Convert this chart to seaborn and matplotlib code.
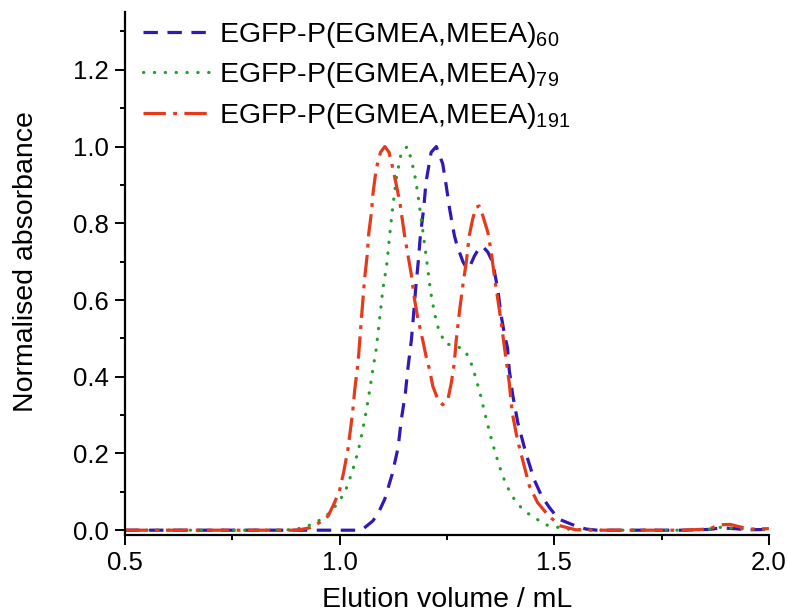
import matplotlib
matplotlib.use('Agg')
import matplotlib.pyplot as plt
import seaborn as sns
from matplotlib.ticker import MultipleLocator, FormatStrFormatter

# EGFP-P(EGMEA,MEEA)60
x_60 = [0.50, 0.60, 0.70, 0.80, 0.90, 1.00, 1.04, 1.054, 1.077, 1.09, 1.105, 1.122, 1.136, 1.143,
        1.153, 1.159, 1.167, 1.172, 1.177, 1.183, 1.188, 1.196, 1.201, 1.213, 1.225, 1.24, 1.248,
        1.256, 1.262, 1.267, 1.273, 1.287, 1.296, 1.304, 1.314, 1.322, 1.333, 1.345, 1.356, 1.368,
        1.376, 1.384, 1.391, 1.395, 1.403, 1.415, 1.434, 1.453, 1.47, 1.488, 1.51, 1.55, 1.574,
        1.60, 1.70, 1.80, 1.86, 1.89, 1.92, 1.95, 2.00]
y_60 = [0.0, 0.0, 0.0, 0.0, 0.0, 0.0, 0.0, 0.003, 0.024, 0.045, 0.081, 0.145, 0.215, 0.284,
        0.358, 0.423, 0.496, 0.561, 0.63, 0.70, 0.769, 0.842, 0.907, 0.985, 1.0, 0.955, 0.899,
        0.838, 0.80, 0.769, 0.743, 0.70, 0.682, 0.69, 0.715, 0.73, 0.74, 0.725, 0.70, 0.63,
        0.561, 0.509, 0.475, 0.418, 0.353, 0.28, 0.20, 0.132, 0.09, 0.06, 0.029, 0.011, 0.003,
        0.0, 0.0, 0.0, 0.002, 0.006, 0.004, 0.001, 0.002]

# EGFP-P(EGMEA,MEEA)79
x_79 = [0.50, 0.60, 0.70, 0.80, 0.88, 0.91, 0.93, 0.953, 0.978, 0.996, 1.012, 1.029, 1.043, 1.053,
        1.062, 1.07, 1.077, 1.085, 1.093, 1.101, 1.109, 1.116, 1.124, 1.133, 1.143, 1.157, 1.167,
        1.177, 1.184, 1.194, 1.203, 1.212, 1.221, 1.23, 1.246, 1.269, 1.291, 1.304, 1.312, 1.319,
        1.326, 1.337, 1.349, 1.362, 1.377, 1.386, 1.398, 1.413, 1.434, 1.48, 1.527, 1.60, 1.70,
        1.80, 1.86, 1.89, 1.92, 1.95, 2.00]
y_79 = [0.0, 0.0, 0.0, 0.0, 0.001, 0.005, 0.013, 0.026, 0.046, 0.072, 0.098, 0.152, 0.206, 0.258,
        0.312, 0.366, 0.418, 0.472, 0.552, 0.632, 0.687, 0.765, 0.847, 0.925, 0.981, 1.0, 0.966,
        0.913, 0.86, 0.777, 0.70, 0.62, 0.565, 0.525, 0.486, 0.481, 0.47, 0.442, 0.416, 0.389,
        0.362, 0.31, 0.256, 0.203, 0.15, 0.124, 0.096, 0.07, 0.047, 0.014, 0.003, 0.0, 0.0,
        0.0, 0.002, 0.008, 0.005, 0.002, 0.002]

# EGFP-P(EGMEA,MEEA)191
x_191 = [0.50, 0.60, 0.70, 0.80, 0.90, 0.93, 0.953, 0.973, 0.988, 1.0, 1.009, 1.019, 1.025, 1.03,
         1.035, 1.043, 1.05, 1.058, 1.064, 1.068, 1.074, 1.077, 1.085, 1.095, 1.105, 1.115, 1.124,
         1.132, 1.14, 1.151, 1.159, 1.167, 1.174, 1.182, 1.194, 1.202, 1.209, 1.217, 1.229, 1.24,
         1.252, 1.26, 1.267, 1.271, 1.279, 1.287, 1.295, 1.302, 1.31, 1.318, 1.325, 1.333, 1.345,
         1.353, 1.36, 1.368, 1.376, 1.384, 1.395, 1.402, 1.414, 1.426, 1.442, 1.461, 1.488, 1.515,
         1.55, 1.60, 1.70, 1.80, 1.86, 1.885, 1.91, 1.935, 1.96, 2.00]
y_191 = [0.0, 0.0, 0.0, 0.0, 0.0, 0.006, 0.02, 0.037, 0.072, 0.106, 0.15, 0.21, 0.262, 0.306,
         0.366, 0.44, 0.544, 0.656, 0.717, 0.777, 0.829, 0.873, 0.942, 0.985, 1.0, 0.985, 0.942,
         0.899, 0.855, 0.769, 0.717, 0.665, 0.604, 0.552, 0.492, 0.449, 0.42, 0.375, 0.34, 0.327,
         0.34, 0.384, 0.436, 0.49, 0.57, 0.639, 0.70, 0.769, 0.812, 0.842, 0.845, 0.821, 0.777,
         0.725, 0.665, 0.604, 0.544, 0.475, 0.384, 0.306, 0.236, 0.184, 0.115, 0.072, 0.036, 0.011,
         0.001, 0.0, 0.0, 0.0, 0.003, 0.014, 0.015, 0.008, 0.003, 0.004]

sns.set_style('ticks')
plt.rcParams['font.family'] = ['Liberation Sans', 'DejaVu Sans']
plt.rcParams['mathtext.default'] = 'regular'
plt.rcParams['text.color'] = 'black'
plt.rcParams['axes.labelcolor'] = 'black'
plt.rcParams['xtick.color'] = 'black'
plt.rcParams['ytick.color'] = 'black'

fig, ax = plt.subplots(figsize=(7.87, 6.14), dpi=100)
fig.subplots_adjust(left=0.159, right=0.977, bottom=0.129, top=0.980)

sns.lineplot(x=x_60, y=y_60, ax=ax, color='#3219b4', linewidth=2.3,
             linestyle=(0, (4.5, 3)), label=r'EGFP-P(EGMEA,MEEA)$_{60}$')
sns.lineplot(x=x_79, y=y_79, ax=ax, color='#22a02a', linewidth=2.3,
             linestyle=(0, (0.1, 3.3)), dash_capstyle='round',
             label=r'EGFP-P(EGMEA,MEEA)$_{79}$')
sns.lineplot(x=x_191, y=y_191, ax=ax, color='#e63a1c', linewidth=2.3,
             linestyle=(0, (7, 2.3, 1.2, 2.3)), label=r'EGFP-P(EGMEA,MEEA)$_{191}$')

ax.set_xlim(0.5, 2.0)
ax.set_ylim(-0.012, 1.35)
ax.xaxis.set_major_locator(MultipleLocator(0.5))
ax.xaxis.set_minor_locator(MultipleLocator(0.25))
ax.yaxis.set_major_locator(MultipleLocator(0.2))
ax.yaxis.set_minor_locator(MultipleLocator(0.1))
ax.xaxis.set_major_formatter(FormatStrFormatter('%.1f'))
ax.yaxis.set_major_formatter(FormatStrFormatter('%.1f'))
sns.despine(ax=ax)
for s in ['left', 'bottom']:
    ax.spines[s].set_linewidth(1.6)
    ax.spines[s].set_color('black')
ax.tick_params(which='major', length=7, width=1.4, labelsize=18.5, pad=5)
ax.tick_params(which='minor', length=3.6, width=1.4)

ax.set_xlabel('Elution volume / mL', fontsize=20.5)
ax.set_ylabel('Normalised absorbance', fontsize=20.5)
ax.xaxis.set_label_coords(0.5, -0.099)
ax.yaxis.set_label_coords(-0.134, 0.522)

ax.legend(loc='upper left', bbox_to_anchor=(0.027, 0.985), frameon=False, fontsize=20.5,
          handlelength=2.4, handletextpad=0.3, labelspacing=0.36, borderaxespad=0, borderpad=0)

fig.savefig('out.png', dpi=100)
